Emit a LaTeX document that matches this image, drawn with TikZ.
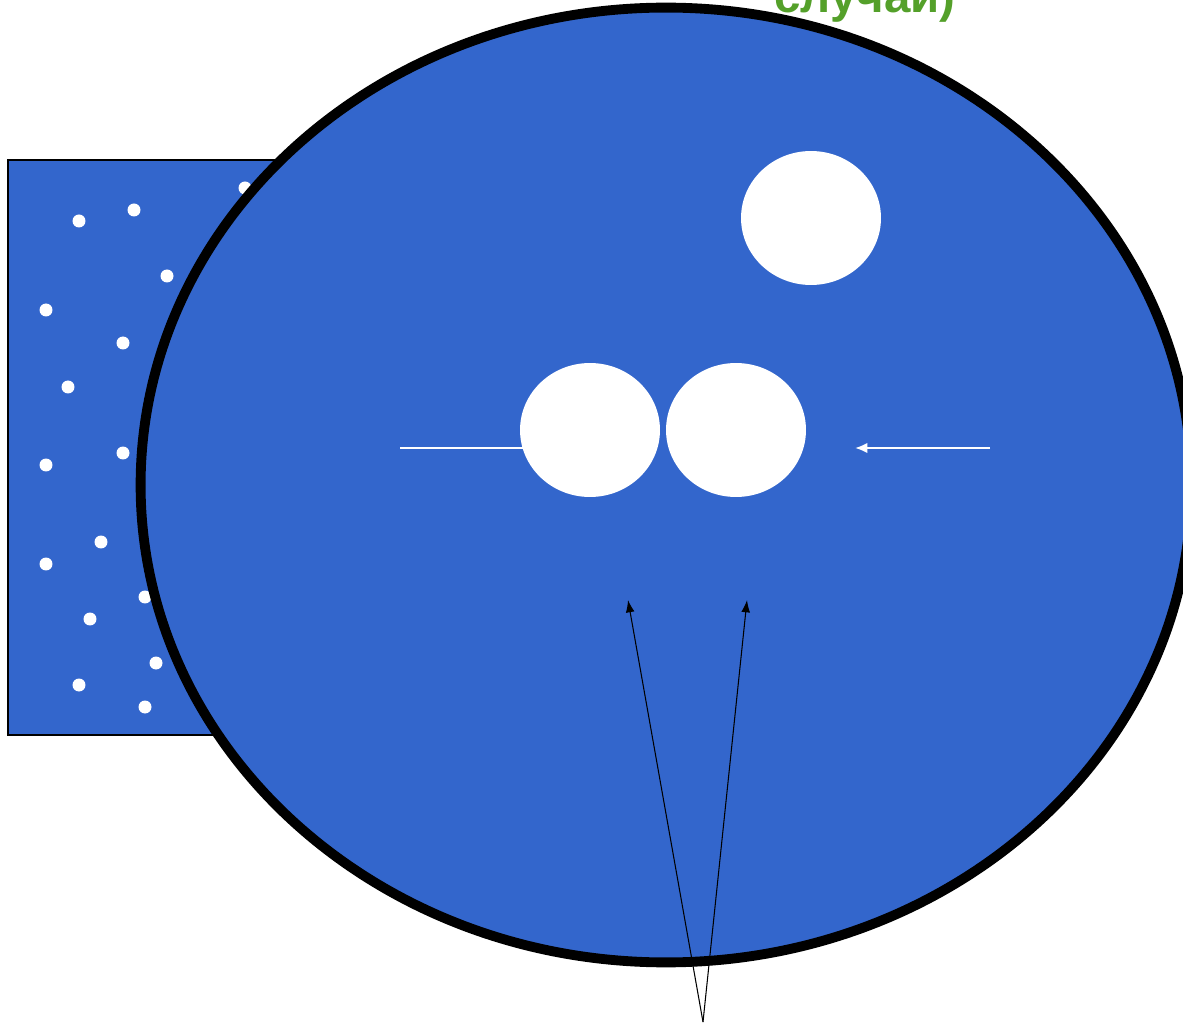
\documentclass[tikz,border=0pt]{standalone}
\usepackage{fontspec}
\setmainfont{Liberation Sans}
\usepackage{xcolor}
\usepackage{tikz}
\usetikzlibrary{arrows.meta, positioning, shapes.geometric}
\definecolor{poolblue}{RGB}{51,102,204}
\definecolor{leafgreen}{RGB}{84,160,42}

\begin{document}
\begin{tikzpicture}[
  x=0.02cm, y=-0.02cm,
  cell/.style={ellipse, draw=black, line width=5.6pt, fill=poolblue, minimum width=21.02cm, minimum height=19.1cm},
  drop/.style={ellipse, fill=white, minimum width=2.8cm, minimum height=2.68cm, inner sep=0pt},
  dot/.style={circle, fill=white, minimum size=0.26cm, inner sep=0pt},
  arrow/.style={-{Latex[length=7pt,width=5pt]}, line width=0.6pt},
  warrow/.style={-{Latex[length=7pt,width=6pt]}, white, line width=1.2pt}
]
\useasboundingbox (0,0) rectangle (1183,1023);
\clip (0,0) rectangle (1183,1023);

% Box with particles
\draw[fill=poolblue, line width=0.8pt] (8,160) rectangle (320,735);
\foreach \px/\py in {79/221, 134/210, 245/188, 167/276, 46/310, 123/343, 68/387,
                     46/465, 123/453, 101/542, 46/564, 145/597, 90/619,
                     156/663, 79/685, 145/707}
  \node[dot] at (\px,\py) {};

% Nodes
\node[cell] (n1) at (666,485) {};
\coordinate (w1) at (400,448);
\coordinate (w2) at (545,448);
\draw[warrow] (w1) -- (w2);
\node[drop] (n2) at (811,218) {};
\node[drop] (n3) at (590,430) {};
\node[drop] (n4) at (736,430) {};
\node[text=leafgreen, font=\bfseries\fontsize{27}{32}\selectfont, anchor=base] (n5) at (865,13) {случай)};

% Pointers
\coordinate (w3) at (990,448);
\coordinate (w4) at (855,448);
\draw[warrow] (w3) -- (w4);
\coordinate (p0) at (703,1022);
\coordinate (p1) at (628,600);
\coordinate (p2) at (747,600);
\draw[arrow] (p0) -- (p1);
\draw[arrow] (p0) -- (p2);
\end{tikzpicture}
\end{document}
